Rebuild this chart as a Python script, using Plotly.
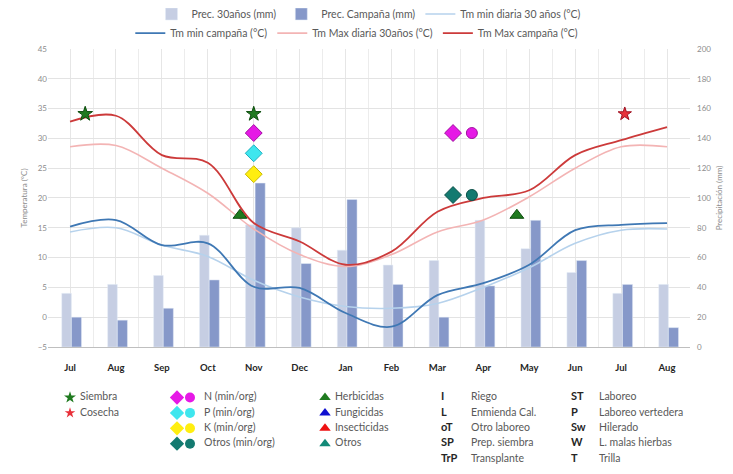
import plotly.graph_objects as go

months = ["Jul", "Aug", "Sep", "Oct", "Nov", "Dec", "Jan", "Feb", "Mar", "Apr", "May", "Jun", "Jul", "Aug"]

# precipitation (mm), right axis
prec_30 = [36, 42, 48, 75, 82, 80, 65, 55, 58, 85, 66, 50, 36, 42]
prec_camp = [20, 18, 26, 45, 110, 56, 99, 42, 20, 41, 85, 58, 42, 13]

# temperatures (°C), left axis
tmin_30 = [14.3, 15.0, 12.1, 10.2, 6.2, 3.4, 1.8, 1.5, 2.3, 5.0, 8.3, 12.4, 14.6, 14.8]
tmin_camp = [15.2, 16.3, 12.1, 12.4, 5.1, 4.9, 0.7, -1.6, 3.7, 5.7, 8.8, 14.6, 15.5, 15.8]
tmax_30 = [28.6, 28.8, 25.0, 20.8, 14.8, 10.5, 8.5, 10.5, 14.3, 16.3, 20.2, 25.0, 28.6, 28.6]
tmax_camp = [32.8, 33.8, 27.2, 25.9, 15.8, 12.7, 8.8, 11.0, 17.7, 20.0, 21.3, 27.2, 29.7, 31.9]

# field events (x = month index, y = °C level where drawn)
siembra_x, siembra_y = [0.33, 4.0], [34.1, 34.1]
cosecha_x, cosecha_y = [12.08], [34.1]
n_min_x, n_min_y = [4.0, 8.34], [30.9, 30.9]
n_org_x, n_org_y = [8.75], [30.9]
p_min_x, p_min_y = [4.0], [27.5]
k_min_x, k_min_y = [4.0], [24.0]
otros_min_x, otros_min_y = [8.34], [20.5]
otros_org_x, otros_org_y = [8.75], [20.5]
herb_x, herb_y = [3.7, 9.73], [17.1, 17.1]

# bottom key
key_events = ["Siembra", "Cosecha"]
key_fert = ["N (min/org)", "P (min/org)", "K (min/org)", "Otros (min/org)"]
key_phyto = ["Herbicidas", "Fungicidas", "Insecticidas", "Otros"]
key_codes_1 = ["I", "L", "oT", "SP", "TrP"]
key_names_1 = ["Riego", "Enmienda Cal.", "Otro laboreo", "Prep. siembra", "Transplante"]
key_codes_2 = ["ST", "P", "Sw", "W", "T"]
key_names_2 = ["Laboreo", "Laboreo vertedera", "Hilerado", "L. malas hierbas", "Trilla"]

FONT = "Lato"
GREEN = "#1f7a1f"
RED = "#e8313a"
MAGENTA = "#e619e6"
CYAN = "#3fe6ee"
YELLOW = "#ffee10"
TEAL = "#137a70"

fig = go.Figure()

xs = list(range(len(months)))

fig.add_trace(go.Bar(x=xs, y=prec_30, name="Prec. 30años (mm)", marker_color="#c6cee3",
                     width=0.21, offset=-0.18, legend="legend"))
fig.add_trace(go.Bar(x=xs, y=prec_camp, name="Prec. Campaña (mm)", marker_color="#8698c9",
                     width=0.22, offset=0.03, legend="legend"))

def temp_line(y, name, color, width, leg):
    fig.add_trace(go.Scatter(x=xs, y=y, name=name, mode="lines", yaxis="y2", legend=leg,
                             line=dict(color=color, width=width, shape="spline", smoothing=1)))

temp_line(tmin_30, "Tm min diaria 30 años (°C)", "#b6d2ec", 1.6, "legend")
temp_line(tmin_camp, "Tm min campaña (°C)", "#3f78b4", 1.8, "legend2")
temp_line(tmax_30, "Tm Max diaria 30años (°C)", "#f3b4b4", 1.6, "legend2")
temp_line(tmax_camp, "Tm Max campaña (°C)", "#cc3a3a", 1.8, "legend2")

def events(x, y, symbol, color, size, line_color):
    fig.add_trace(go.Scatter(x=x, y=y, mode="markers", yaxis="y2", showlegend=False,
                             marker=dict(symbol=symbol, color=color, size=size,
                                         line=dict(color=line_color, width=1))))

events(siembra_x, siembra_y, "star", GREEN, 11, "#0d4d0d")
events(cosecha_x, cosecha_y, "star", RED, 10, "#a01020")
events(n_min_x, n_min_y, "diamond", MAGENTA, 13, "#a010a0")
events(n_org_x, n_org_y, "circle", MAGENTA, 11, "#a010a0")
events(p_min_x, p_min_y, "diamond", CYAN, 13, "#20b0c0")
events(k_min_x, k_min_y, "diamond", YELLOW, 13, "#c8b800")
events(otros_min_x, otros_min_y, "diamond", TEAL, 13, "#0b5048")
events(otros_org_x, otros_org_y, "circle", TEAL, 11, "#0b5048")
events(herb_x, herb_y, "triangle-up", GREEN, 12, "#0d4d0d")

# ---- bottom key, drawn on its own hidden axes (units ~ screen pixels)
rows = [397.5 + 15.4 * i for i in range(5)]

def key_markers(x, y, symbol, color, size):
    fig.add_trace(go.Scatter(x=x, y=y, mode="markers", xaxis="x3", yaxis="y3", showlegend=False,
                             marker=dict(symbol=symbol, color=color, size=size, line=dict(width=0))))

def key_text(x, labels, bold=False, color="#595959"):
    fig.add_trace(go.Scatter(x=[x] * len(labels), y=rows[:len(labels)], mode="text", text=labels,
                             textposition="middle right", xaxis="x3", yaxis="y3", showlegend=False,
                             textfont=dict(family=FONT, size=10.5 if not bold else 11, color=color,
                                           weight="bold" if bold else "normal")))

key_markers([70], [rows[0]], "star", GREEN, 9)
key_markers([70], [rows[1]], "star", RED, 8)
key_text(80, key_events)

fert_colors = [MAGENTA, CYAN, YELLOW, TEAL]
for i, c in enumerate(fert_colors):
    key_markers([177], [rows[i]], "diamond", c, 11)
    key_markers([190], [rows[i]], "circle", c, 10)
key_text(204, key_fert)

phyto_colors = [GREEN, "#1010d0", "#ee1111", "#138a78"]
for i, c in enumerate(phyto_colors):
    key_markers([325], [rows[i]], "triangle-up", c, 10)
key_text(335, key_phyto)

key_text(441, key_codes_1, bold=True, color="#262626")
key_text(471, key_names_1)
key_text(571, key_codes_2, bold=True, color="#262626")
key_text(599, key_names_2)

axis_font = dict(family=FONT, size=8, color="#8c8c8c")

# the page body adds an 8px offset, so margins are reduced by 8 on the left/top
fig.update_layout(
    width=733, height=474,
    margin=dict(l=40, r=51, t=41, b=16, autoexpand=False),
    paper_bgcolor="white", plot_bgcolor="white",
    font=dict(family=FONT, size=9, color="#595959"),
    xaxis=dict(range=[-0.48, 13.5], tickvals=xs, ticktext=months, anchor="y",
               tickfont=dict(family=FONT, size=9.5, color="#262626", weight="bold"),
               ticklabelstandoff=12,
               showgrid=True, gridcolor="#e6e6e6", gridwidth=1,
               minor=dict(tickvals=[i + 0.5 for i in range(-1, 14)], showgrid=True, gridcolor="#ececec"),
               showline=True, linecolor="#bfbfbf", ticks="", zeroline=False, automargin=False),
    yaxis=dict(domain=[0.2854, 1], range=[0, 200], dtick=20, side="right", automargin=False,
               tickfont=axis_font, showgrid=True, gridcolor="#e3e3e3", zeroline=False,
               ticklabelstandoff=6,
               title=dict(text="Precipitación (mm)", font=dict(family=FONT, size=8, color="#8c8c8c"),
                          standoff=6)),
    yaxis2=dict(range=[-5, 45], dtick=5, overlaying="y", side="left", showgrid=False,
                zeroline=False, tickfont=axis_font, automargin=False,
                title=dict(text="Temperatura (°C)", font=dict(family=FONT, size=8, color="#8c8c8c"),
                           standoff=8)),
    xaxis3=dict(domain=[0, 1], range=[48, 690], anchor="y3", visible=False),
    yaxis3=dict(domain=[0, 0.2854], range=[466, 347], anchor="x3", visible=False),
    legend=dict(orientation="h", x=0.50, xanchor="center", y=1.084, yanchor="middle",
                font=dict(family=FONT, size=10.5, color="#595959"), bgcolor="rgba(0,0,0,0)",
                itemwidth=30),
    legend2=dict(orientation="h", x=0.481, xanchor="center", y=1.038, yanchor="middle",
                 font=dict(family=FONT, size=10.5, color="#595959"), bgcolor="rgba(0,0,0,0)",
                 itemwidth=30),
)

fig.write_html("out.html")
